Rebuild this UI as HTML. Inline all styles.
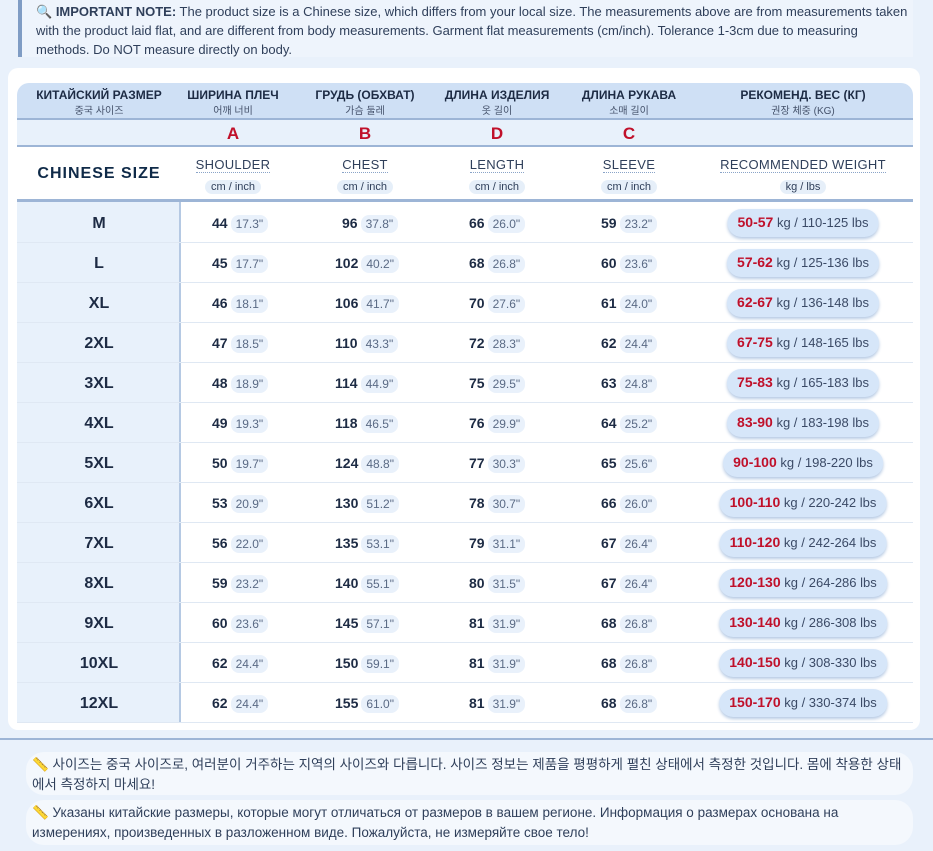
<!DOCTYPE html>
<html><head><meta charset="utf-8"><style>
*{margin:0;padding:0;box-sizing:border-box}
body{width:933px;height:851px;background:#e9f1fb;font-family:"Liberation Sans","Noto Sans CJK KR",sans-serif;position:relative;overflow:hidden;color:#1d2b44}
.note{position:absolute;left:18px;top:0;width:895px;height:57px;background:#eef4fc;border-left:4px solid #7f9cc4;padding:2px 0 0 14px;font-size:13px;line-height:19px;color:#2f3f5a}
.card{position:absolute;left:8px;top:68px;width:912px;height:662px;background:#fff;border-radius:10px}
.a{position:absolute;text-align:center}
.hdr{position:absolute;left:17px;top:83px;width:896px;height:37px;background:#cfe0f5;border-radius:12px 12px 0 0;border-bottom:2px solid #9db5d6}
.lrow{position:absolute;left:17px;top:120px;width:896px;height:27px;background:#e8f1fb;border-bottom:2px solid #9db5d6}
.erow{position:absolute;left:17px;top:147px;width:896px;height:55px;border-bottom:3px solid #9db5d6}
.sizecol{position:absolute;left:17px;top:202px;width:164px;height:520px;background:#e8f1fb;border-right:2px solid #b5c9e3}
.h1{font-size:12px;font-weight:bold;color:#1d2b44}
.h2{font-size:10px;color:#44516a}
.L{font-size:17px;font-weight:bold;color:#c0102a}
.en{font-size:13px;color:#2f3f5a;letter-spacing:.3px}
.en span{border-bottom:1px dotted #8aa4c8}
.unit{font-size:11px;background:#e6eff9;border-radius:9px;padding:1px 6px;color:#2f3f5a}
.row{position:absolute;left:17px;width:896px;height:40px;border-bottom:1px solid #dfe8f3}
.c{position:absolute;top:12px;font-size:14px;font-weight:bold;color:#1d2b44;white-space:nowrap}
.c i{font-style:normal;font-weight:normal;font-size:12px;color:#5a6a85;background:#e9f1fb;border-radius:8px;padding:2px 5px;margin-left:3px}
.sz{position:absolute;left:0;width:164px;top:12px;text-align:center;font-size:16px;font-weight:bold;color:#1d2b44}
.w{position:absolute;top:6px;height:28px;border-radius:14px;background:#d6e6f9;box-shadow:0 2px 3px #b5c9e3;font-size:13px;color:#3b4a66;padding:5px 10px;white-space:nowrap;transform:translateX(-50%)}
.w b{color:#c0102a;font-size:14px}
.bot{position:absolute;left:0;top:738px;width:933px;height:2px;background:#9db5d6}
.box{position:absolute;left:26px;width:887px;background:#f4f8fd;border-radius:18px;font-size:13.5px;line-height:20px;color:#2f3f5a;padding:3px 6px}
</style></head><body>
<div class="note">🔍 <b>IMPORTANT NOTE:</b> The product size is a Chinese size, which differs from your local size. The measurements above are from measurements taken with the product laid flat, and are different from body measurements. Garment flat measurements (cm/inch). Tolerance 1-3cm due to measuring methods. Do NOT measure directly on body.</div>
<div class="card"></div>
<div class="hdr"></div><div class="lrow"></div><div class="erow"></div>
<div class="sizecol"></div>
<div class="a" style="left:17px;width:164px;top:88px"><div class="h1">КИТАЙСКИЙ РАЗМЕР</div><div class="h2">중국 사이즈</div></div>
<div class="a" style="left:167px;width:132px;top:88px"><div class="h1">ШИРИНА ПЛЕЧ</div><div class="h2">어깨 너비</div></div>
<div class="a" style="left:299px;width:132px;top:88px"><div class="h1">ГРУДЬ (ОБХВАТ)</div><div class="h2">가슴 둘레</div></div>
<div class="a" style="left:431px;width:132px;top:88px"><div class="h1">ДЛИНА ИЗДЕЛИЯ</div><div class="h2">옷 길이</div></div>
<div class="a" style="left:563px;width:132px;top:88px"><div class="h1">ДЛИНА РУКАВА</div><div class="h2">소매 길이</div></div>
<div class="a" style="left:703px;width:200px;top:88px"><div class="h1">РЕКОМЕНД. ВЕС (КГ)</div><div class="h2">권장 체중 (KG)</div></div>
<div class="a L" style="left:167px;width:132px;top:124px">A</div>
<div class="a L" style="left:299px;width:132px;top:124px">B</div>
<div class="a L" style="left:431px;width:132px;top:124px">D</div>
<div class="a L" style="left:563px;width:132px;top:124px">C</div>
<div class="a" style="left:17px;width:164px;top:165px;font-size:16px;font-weight:900;letter-spacing:1px;color:#0f2a48">CHINESE SIZE</div>
<div class="a" style="left:167px;width:132px;top:157px"><div class="en"><span>SHOULDER</span></div><div style="margin-top:5px"><span class="unit">cm / inch</span></div></div>
<div class="a" style="left:299px;width:132px;top:157px"><div class="en"><span>CHEST</span></div><div style="margin-top:5px"><span class="unit">cm / inch</span></div></div>
<div class="a" style="left:431px;width:132px;top:157px"><div class="en"><span>LENGTH</span></div><div style="margin-top:5px"><span class="unit">cm / inch</span></div></div>
<div class="a" style="left:563px;width:132px;top:157px"><div class="en"><span>SLEEVE</span></div><div style="margin-top:5px"><span class="unit">cm / inch</span></div></div>
<div class="a" style="left:703px;width:200px;top:157px"><div class="en"><span>RECOMMENDED WEIGHT</span></div><div style="margin-top:5px"><span class="unit">kg / lbs</span></div></div>
<div id="rows"></div>
<div class="bot"></div>
<div class="box" style="top:752px;height:43px">📏 사이즈는 중국 사이즈로, 여러분이 거주하는 지역의 사이즈와 다릅니다. 사이즈 정보는 제품을 평평하게 펼친 상태에서 측정한 것입니다. 몸에 착용한 상태에서 측정하지 마세요!</div>
<div class="box" style="top:800px;height:45px">📏 Указаны китайские размеры, которые могут отличаться от размеров в вашем регионе. Информация о размерах основана на измерениях, произведенных в разложенном виде. Пожалуйста, не измеряйте свое тело!</div>
<script>
var d=[["M",44,"17.3",96,"37.8",66,"26.0",59,"23.2","50-57","110-125"],
["L",45,"17.7",102,"40.2",68,"26.8",60,"23.6","57-62","125-136"],
["XL",46,"18.1",106,"41.7",70,"27.6",61,"24.0","62-67","136-148"],
["2XL",47,"18.5",110,"43.3",72,"28.3",62,"24.4","67-75","148-165"],
["3XL",48,"18.9",114,"44.9",75,"29.5",63,"24.8","75-83","165-183"],
["4XL",49,"19.3",118,"46.5",76,"29.9",64,"25.2","83-90","183-198"],
["5XL",50,"19.7",124,"48.8",77,"30.3",65,"25.6","90-100","198-220"],
["6XL",53,"20.9",130,"51.2",78,"30.7",66,"26.0","100-110","220-242"],
["7XL",56,"22.0",135,"53.1",79,"31.1",67,"26.4","110-120","242-264"],
["8XL",59,"23.2",140,"55.1",80,"31.5",67,"26.4","120-130","264-286"],
["9XL",60,"23.6",145,"57.1",81,"31.9",68,"26.8","130-140","286-308"],
["10XL",62,"24.4",150,"59.1",81,"31.9",68,"26.8","140-150","308-330"],
["12XL",62,"24.4",155,"61.0",81,"31.9",68,"26.8","150-170","330-374"]];
var h="";d.forEach(function(r,i){var t=203+i*40;
h+='<div class="row" style="top:'+t+'px"><div class="sz">'+r[0]+'</div>'+
'<div class="c" style="left:195px">'+r[1]+'<i>'+r[2]+'"</i></div>'+
'<div class="c" style="left:'+(r[3]>99?318:325)+'px">'+r[3]+'<i>'+r[4]+'"</i></div>'+
'<div class="c" style="left:452px">'+r[5]+'<i>'+r[6]+'"</i></div>'+
'<div class="c" style="left:584px">'+r[7]+'<i>'+r[8]+'"</i></div>'+
'<div class="w" style="left:786px"><b>'+r[9]+'</b> kg / '+r[10]+' lbs</div></div>';});
document.getElementById("rows").innerHTML=h;
</script>
</body></html>
